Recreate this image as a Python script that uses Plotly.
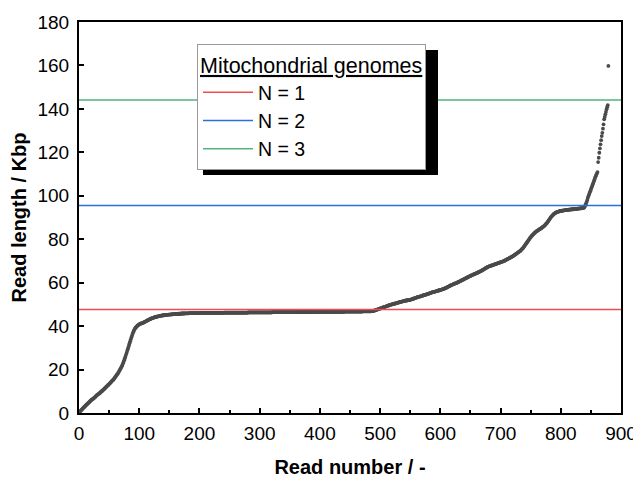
import plotly.graph_objects as go

# Read lengths (Kbp), sorted, one value per read (read number = position, starting at 1)
read_lengths = [
    0.4, 0.8, 1.1, 1.4, 1.7, 2.0, 2.3, 2.6, 2.8, 3.1,
    3.4, 3.7, 4.0, 4.2, 4.5, 4.8, 5.0, 5.3, 5.6, 5.9,
    6.1, 6.3, 6.5, 6.7, 6.9, 7.2, 7.4, 7.7, 8.0, 8.3,
    8.5, 8.7, 8.9, 9.1, 9.3, 9.6, 9.9, 10.1, 10.3, 10.6,
    10.9, 11.1, 11.4, 11.7, 12.0, 12.2, 12.5, 12.8, 13.0, 13.3,
    13.6, 13.9, 14.2, 14.5, 14.8, 15.1, 15.3, 15.7, 16.1, 16.5,
    16.9, 17.3, 17.6, 18.0, 18.4, 18.9, 19.4, 19.9, 20.4, 20.9,
    21.5, 22.1, 22.8, 23.5, 24.3, 25.1, 25.9, 26.8, 27.6, 28.5,
    29.4, 30.3, 31.2, 32.1, 33.0, 33.9, 34.8, 35.6, 36.4, 37.2,
    37.8, 38.4, 38.9, 39.3, 39.6, 39.9, 40.2, 40.4, 40.6, 40.8,
    41.0, 41.1, 41.2, 41.3, 41.4, 41.5, 41.6, 41.8, 41.9, 42.1,
    42.2, 42.4, 42.5, 42.7, 42.8, 43.0, 43.1, 43.2, 43.4, 43.5,
    43.6, 43.7, 43.8, 43.9, 44.0, 44.1, 44.2, 44.3, 44.3, 44.4,
    44.5, 44.5, 44.6, 44.7, 44.7, 44.8, 44.8, 44.9, 44.9, 45.0,
    45.0, 45.0, 45.1, 45.1, 45.2, 45.2, 45.2, 45.3, 45.3, 45.3,
    45.3, 45.4, 45.4, 45.4, 45.4, 45.5, 45.5, 45.5, 45.5, 45.6,
    45.6, 45.6, 45.6, 45.6, 45.7, 45.7, 45.7, 45.7, 45.7, 45.8,
    45.8, 45.8, 45.8, 45.8, 45.8, 45.9, 45.9, 45.9, 45.9, 45.9,
    45.9, 45.9, 46.0, 46.0, 46.0, 46.0, 46.0, 46.0, 46.0, 46.0,
    46.0, 46.0, 46.0, 46.0, 46.0, 46.0, 46.0, 46.0, 46.0, 46.0,
    46.1, 46.1, 46.1, 46.1, 46.1, 46.1, 46.1, 46.1, 46.1, 46.1,
    46.1, 46.1, 46.1, 46.1, 46.1, 46.1, 46.1, 46.1, 46.1, 46.1,
    46.1, 46.1, 46.1, 46.1, 46.1, 46.1, 46.1, 46.1, 46.1, 46.1,
    46.1, 46.1, 46.1, 46.1, 46.1, 46.1, 46.1, 46.1, 46.1, 46.1,
    46.2, 46.2, 46.2, 46.2, 46.2, 46.2, 46.2, 46.2, 46.2, 46.2,
    46.2, 46.2, 46.2, 46.2, 46.2, 46.2, 46.2, 46.2, 46.2, 46.2,
    46.2, 46.2, 46.2, 46.2, 46.2, 46.2, 46.2, 46.2, 46.2, 46.2,
    46.2, 46.2, 46.2, 46.2, 46.2, 46.2, 46.2, 46.2, 46.2, 46.2,
    46.3, 46.3, 46.3, 46.3, 46.3, 46.3, 46.3, 46.3, 46.3, 46.3,
    46.3, 46.3, 46.3, 46.3, 46.3, 46.3, 46.3, 46.3, 46.3, 46.3,
    46.3, 46.3, 46.3, 46.3, 46.3, 46.3, 46.3, 46.3, 46.3, 46.3,
    46.3, 46.3, 46.3, 46.3, 46.3, 46.3, 46.3, 46.3, 46.3, 46.3,
    46.4, 46.4, 46.4, 46.4, 46.4, 46.4, 46.4, 46.4, 46.4, 46.4,
    46.4, 46.4, 46.4, 46.4, 46.4, 46.4, 46.4, 46.4, 46.4, 46.4,
    46.4, 46.4, 46.4, 46.4, 46.4, 46.4, 46.4, 46.4, 46.4, 46.4,
    46.4, 46.4, 46.4, 46.4, 46.4, 46.4, 46.4, 46.4, 46.4, 46.4,
    46.5, 46.5, 46.5, 46.5, 46.5, 46.5, 46.5, 46.5, 46.5, 46.5,
    46.5, 46.5, 46.5, 46.5, 46.5, 46.5, 46.5, 46.5, 46.5, 46.5,
    46.5, 46.5, 46.5, 46.5, 46.5, 46.5, 46.5, 46.5, 46.5, 46.5,
    46.5, 46.5, 46.5, 46.5, 46.5, 46.5, 46.5, 46.5, 46.5, 46.5,
    46.6, 46.6, 46.6, 46.6, 46.6, 46.6, 46.6, 46.6, 46.6, 46.6,
    46.6, 46.6, 46.6, 46.6, 46.6, 46.6, 46.6, 46.6, 46.6, 46.6,
    46.6, 46.6, 46.6, 46.6, 46.6, 46.6, 46.6, 46.6, 46.6, 46.6,
    46.6, 46.6, 46.6, 46.6, 46.6, 46.6, 46.6, 46.6, 46.6, 46.6,
    46.7, 46.7, 46.7, 46.7, 46.7, 46.7, 46.7, 46.7, 46.7, 46.7,
    46.7, 46.7, 46.7, 46.7, 46.7, 46.7, 46.7, 46.7, 46.7, 46.7,
    46.7, 46.7, 46.7, 46.7, 46.7, 46.7, 46.7, 46.7, 46.7, 46.7,
    46.8, 46.8, 46.8, 46.8, 46.8, 46.8, 46.8, 46.8, 46.8, 46.8,
    46.8, 46.8, 46.8, 46.8, 46.8, 46.9, 46.9, 47.0, 47.0, 47.1,
    47.2, 47.3, 47.4, 47.5, 47.6, 47.7, 47.8, 47.9, 48.0, 48.1,
    48.2, 48.3, 48.4, 48.5, 48.6, 48.7, 48.8, 48.9, 49.0, 49.1,
    49.2, 49.3, 49.4, 49.5, 49.6, 49.7, 49.8, 49.9, 50.0, 50.0,
    50.1, 50.2, 50.3, 50.3, 50.4, 50.5, 50.6, 50.6, 50.7, 50.8,
    50.9, 51.0, 51.1, 51.1, 51.2, 51.3, 51.4, 51.4, 51.5, 51.6,
    51.7, 51.7, 51.8, 51.8, 51.9, 51.9, 52.0, 52.0, 52.1, 52.1,
    52.2, 52.3, 52.4, 52.5, 52.6, 52.7, 52.8, 52.9, 53.0, 53.1,
    53.2, 53.3, 53.4, 53.5, 53.6, 53.6, 53.7, 53.8, 53.9, 54.0,
    54.1, 54.2, 54.3, 54.3, 54.4, 54.5, 54.6, 54.7, 54.8, 54.9,
    55.0, 55.1, 55.2, 55.3, 55.4, 55.5, 55.6, 55.6, 55.7, 55.8,
    55.9, 56.0, 56.0, 56.1, 56.2, 56.3, 56.4, 56.5, 56.5, 56.6,
    56.7, 56.8, 56.9, 57.0, 57.1, 57.2, 57.3, 57.5, 57.6, 57.7,
    57.8, 58.0, 58.1, 58.3, 58.4, 58.6, 58.7, 58.9, 59.0, 59.1,
    59.2, 59.3, 59.5, 59.6, 59.7, 59.8, 59.9, 60.0, 60.2, 60.3,
    60.4, 60.6, 60.7, 60.9, 61.0, 61.2, 61.3, 61.4, 61.6, 61.7,
    61.9, 62.0, 62.2, 62.3, 62.4, 62.6, 62.7, 62.9, 63.0, 63.1,
    63.3, 63.4, 63.5, 63.6, 63.8, 63.9, 64.0, 64.1, 64.3, 64.4,
    64.5, 64.6, 64.8, 64.9, 65.0, 65.2, 65.3, 65.5, 65.6, 65.8,
    65.9, 66.1, 66.3, 66.5, 66.7, 66.8, 67.0, 67.1, 67.3, 67.4,
    67.5, 67.6, 67.7, 67.8, 67.9, 68.0, 68.1, 68.2, 68.3, 68.4,
    68.5, 68.6, 68.7, 68.8, 68.9, 69.0, 69.1, 69.2, 69.3, 69.4,
    69.5, 69.6, 69.7, 69.8, 69.9, 70.0, 70.2, 70.3, 70.5, 70.6,
    70.8, 70.9, 71.1, 71.2, 71.4, 71.5, 71.7, 71.8, 72.0, 72.1,
    72.3, 72.5, 72.7, 72.9, 73.1, 73.3, 73.5, 73.7, 73.9, 74.1,
    74.3, 74.5, 74.7, 75.0, 75.3, 75.6, 75.9, 76.2, 76.6, 77.0,
    77.4, 77.8, 78.2, 78.6, 79.0, 79.4, 79.8, 80.2, 80.6, 81.0,
    81.3, 81.6, 81.9, 82.2, 82.5, 82.8, 83.0, 83.3, 83.5, 83.7,
    83.9, 84.1, 84.3, 84.5, 84.6, 84.8, 85.0, 85.2, 85.4, 85.6,
    85.8, 86.0, 86.3, 86.6, 86.9, 87.2, 87.5, 87.9, 88.3, 88.7,
    89.1, 89.5, 89.9, 90.3, 90.6, 90.9, 91.2, 91.5, 91.7, 91.9,
    92.1, 92.3, 92.4, 92.5, 92.6, 92.7, 92.8, 92.9, 93.0, 93.0,
    93.1, 93.1, 93.2, 93.2, 93.3, 93.3, 93.4, 93.4, 93.4, 93.5,
    93.5, 93.5, 93.6, 93.6, 93.6, 93.7, 93.7, 93.7, 93.8, 93.8,
    93.8, 93.9, 93.9, 93.9, 94.0, 94.0, 94.0, 94.1, 94.1, 94.1,
    94.2, 94.2, 94.2, 94.3, 94.3, 94.4, 94.4, 94.5, 94.6, 95.2,
    95.9, 96.5, 97.2, 98.1, 99.1, 99.9, 100.6, 101.4, 102.1, 102.9,
    103.7, 104.4, 105.2, 105.9, 106.7, 107.5, 108.3, 109.0, 109.7, 110.3,
    110.9, 115.5, 117.5, 119.8, 121.8, 123.7, 125.6, 127.5, 129.0, 130.9,
    132.9, 135.2, 136.3, 137.5, 138.6, 139.8, 140.8, 141.7, 159.8,
]
read_numbers = list(range(1, len(read_lengths) + 1))

# Mitochondrial genome multiples (Kbp)
genome_labels = ["N = 1", "N = 2", "N = 3"]
genome_lengths = [47.6, 95.5, 144.1]
genome_colors = ["#ef4d4d", "#2a6fd8", "#52b37c"]

x_range = [0, 900]
y_range = [0, 180]
x_ticks = [0, 100, 200, 300, 400, 500, 600, 700, 800, 900]
y_ticks = [0, 20, 40, 60, 80, 100, 120, 140, 160, 180]

FONT = "Liberation Sans, Arial, sans-serif"

fig = go.Figure()
fig.add_trace(go.Scatter(
    x=read_numbers, y=read_lengths, mode="markers",
    marker=dict(size=3.8, color="#4a4a4a", line=dict(width=0)),
    showlegend=False, hoverinfo="skip",
))
for lab, val, col in zip(genome_labels, genome_lengths, genome_colors):
    fig.add_trace(go.Scatter(
        x=x_range, y=[val, val], mode="lines", name=lab,
        line=dict(color=col, width=1.5),
    ))

# The page body adds an 8 px offset; plot area on screen spans x 79..621, y 22..413
OFF = 8
PX_L, PX_R, PY_T, PY_B = 79, 621, 22, 413
W, H = 641 - OFF, 478 - OFF
L, T = PX_L - OFF, PY_T - OFF
R = W - (PX_R - OFF)
B = H - (PY_B - OFF)
pw, ph = PX_R - PX_L, PY_B - PY_T

def px_x(p):
    return (p - PX_L) / pw

def px_y(p):
    return (PY_B - p) / ph

fig.update_layout(
    width=W, height=H,
    margin=dict(l=L, r=R, t=T, b=B, pad=0, autoexpand=False),
    paper_bgcolor="white", plot_bgcolor="white",
    font=dict(family=FONT, color="black", size=19),
    showlegend=True,
    legend=dict(
        title=dict(text="<u>Mitochondrial genomes</u>", font=dict(size=21.5, family=FONT)),
        font=dict(size=19.5, family=FONT),
        x=px_x(197), y=px_y(44), xanchor="left", yanchor="top",
        bgcolor="white", bordercolor="#9a9a9a", borderwidth=1,
        itemwidth=50, tracegroupgap=0,
    ),
    shapes=[dict(
        type="rect", xref="paper", yref="paper",
        x0=px_x(203), x1=px_x(438), y0=px_y(175), y1=px_y(50),
        fillcolor="black", line=dict(width=0), layer="above",
    )],
)
fig.update_xaxes(
    range=x_range, tickvals=x_ticks, ticks="inside", ticklen=5, tickwidth=1.5,
    tickcolor="black", showline=True, linewidth=2, linecolor="black", mirror=True,
    showgrid=False, zeroline=False, tickfont=dict(size=19), automargin=False,
    ticklabelstandoff=2,
    minor=dict(ticks="inside", ticklen=3, tickwidth=1.5, dtick=50, tick0=0, showgrid=False),
    title=dict(text="<b>Read number / -</b>", font=dict(size=20), standoff=18),
)
fig.update_yaxes(
    range=y_range, tickvals=y_ticks, ticks="inside", ticklen=5, tickwidth=1.5,
    tickcolor="black", showline=True, linewidth=2, linecolor="black", mirror=True,
    showgrid=False, zeroline=False, tickfont=dict(size=19), automargin=False,
    ticklabelstandoff=4,
    title=dict(text="<b>Read length / Kbp</b>", font=dict(size=20), standoff=9),
)

fig.write_html("out.html")
